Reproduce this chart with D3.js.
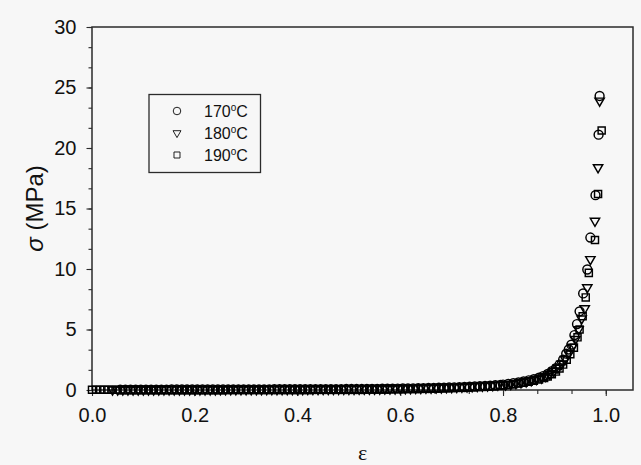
<!DOCTYPE html>
<html>
<head>
<meta charset="utf-8">
<script src="https://cdn.jsdelivr.net/npm/d3@7"></script>
<style>
  html, body { margin: 0; padding: 0; background: #f7f7f7; }
  svg { display: block; }
</style>
</head>
<body>
<div id="vis"></div>
<script>
'use strict';

// Data: strain (ε) and stress σ (MPa) for each temperature
const strain170 = [0.055, 0.065, 0.075, 0.085, 0.095, 0.105, 0.115, 0.125, 0.135, 0.145,
  0.155, 0.165, 0.175, 0.185, 0.195, 0.205, 0.215, 0.225, 0.235, 0.245, 0.255,
  0.265, 0.275, 0.285, 0.295, 0.305, 0.315, 0.325, 0.335, 0.345,
  0.355, 0.365, 0.375, 0.385, 0.395, 0.405, 0.415, 0.425,
  0.435, 0.445, 0.455, 0.465, 0.475, 0.485,
  0.495, 0.505, 0.515, 0.525,
  0.535, 0.545, 0.555,
  0.565, 0.575, 0.585, 0.595, 0.605, 0.615, 0.625, 0.635, 0.645, 0.655, 0.665, 0.675,
  0.685, 0.695, 0.705, 0.715, 0.725, 0.735, 0.745, 0.755, 0.765, 0.775, 0.785, 0.795,
  0.80, 0.81, 0.82, 0.83, 0.84, 0.85, 0.86, 0.87, 0.878, 0.887, 0.895, 0.903,
  0.91, 0.917, 0.923, 0.928, 0.933, 0.939, 0.944, 0.949, 0.956, 0.964, 0.970, 0.980, 0.986, 0.988];
const stress170 = [0.03, 0.03, 0.03, 0.03, 0.03, 0.03, 0.03, 0.03, 0.03, 0.03,
  0.04, 0.04, 0.04, 0.04, 0.04, 0.04, 0.04, 0.04, 0.04, 0.04, 0.04,
  0.05, 0.05, 0.05, 0.05, 0.05, 0.05, 0.05, 0.05, 0.05,
  0.06, 0.06, 0.06, 0.06, 0.06, 0.06, 0.06, 0.06,
  0.07, 0.07, 0.07, 0.07, 0.07, 0.07,
  0.08, 0.08, 0.08, 0.08,
  0.09, 0.09, 0.09,
  0.10, 0.105, 0.11, 0.12, 0.125, 0.13, 0.14, 0.145, 0.155, 0.165, 0.175, 0.185,
  0.195, 0.21, 0.22, 0.235, 0.25, 0.27, 0.29, 0.31, 0.33, 0.36, 0.39, 0.42,
  0.45, 0.50, 0.56, 0.63, 0.71, 0.80, 0.90, 1.02, 1.15, 1.33, 1.55, 1.80,
  2.10, 2.50, 3.00, 3.35, 3.75, 4.54, 5.45, 6.50, 7.98, 9.96, 12.6, 16.1, 21.1, 24.3];

const strain180 = [0.04, 0.05, 0.06, 0.07, 0.08, 0.09, 0.10, 0.11, 0.12, 0.13,
  0.14, 0.15, 0.16, 0.17, 0.18, 0.19, 0.20, 0.21, 0.22, 0.23, 0.24,
  0.25, 0.26, 0.27, 0.28, 0.29, 0.30, 0.31, 0.32, 0.33,
  0.34, 0.35, 0.36, 0.37, 0.38, 0.39, 0.40, 0.41,
  0.42, 0.43, 0.44, 0.45, 0.46, 0.47,
  0.48, 0.49, 0.50, 0.51,
  0.52, 0.53, 0.54, 0.55,
  0.56, 0.57, 0.58, 0.59, 0.60, 0.61, 0.62, 0.63, 0.64, 0.65, 0.66, 0.67,
  0.68, 0.69, 0.70, 0.71, 0.72, 0.73, 0.74, 0.75, 0.76, 0.77, 0.78, 0.79,
  0.805, 0.815, 0.825, 0.835, 0.845, 0.855, 0.865, 0.875, 0.883, 0.891, 0.899, 0.907,
  0.914, 0.921, 0.928, 0.935, 0.941, 0.947, 0.953, 0.959, 0.964, 0.970, 0.979, 0.985, 0.988];
const stress180 = [0.03, 0.03, 0.03, 0.03, 0.03, 0.03, 0.03, 0.03, 0.03, 0.03,
  0.04, 0.04, 0.04, 0.04, 0.04, 0.04, 0.04, 0.04, 0.04, 0.04, 0.04,
  0.05, 0.05, 0.05, 0.05, 0.05, 0.05, 0.05, 0.05, 0.05,
  0.06, 0.06, 0.06, 0.06, 0.06, 0.06, 0.06, 0.06,
  0.07, 0.07, 0.07, 0.07, 0.07, 0.07,
  0.08, 0.08, 0.08, 0.08,
  0.09, 0.09, 0.09, 0.09,
  0.10, 0.105, 0.11, 0.115, 0.12, 0.13, 0.135, 0.145, 0.155, 0.165, 0.175, 0.185,
  0.195, 0.21, 0.22, 0.235, 0.25, 0.27, 0.29, 0.31, 0.33, 0.36, 0.39, 0.42,
  0.44, 0.49, 0.55, 0.62, 0.70, 0.79, 0.89, 1.01, 1.15, 1.33, 1.55, 1.82,
  2.15, 2.55, 3.00, 3.55, 4.20, 5.00, 5.90, 6.74, 8.47, 10.8, 13.97, 18.4, 23.9];

const strain190 = [0, 0.008, 0.016, 0.024, 0.032, 0.04, 0.048,
  0.06, 0.07, 0.08, 0.09, 0.10, 0.11, 0.12, 0.13, 0.14, 0.15,
  0.16, 0.17, 0.18, 0.19, 0.20, 0.21, 0.22, 0.23, 0.24, 0.25, 0.26,
  0.27, 0.28, 0.29, 0.30, 0.31, 0.32, 0.33, 0.34, 0.35,
  0.36, 0.37, 0.38, 0.39, 0.40, 0.41, 0.42, 0.43,
  0.44, 0.45, 0.46, 0.47, 0.48, 0.49,
  0.50, 0.51, 0.52, 0.53,
  0.54, 0.55, 0.56, 0.57,
  0.58, 0.59, 0.60, 0.61, 0.62, 0.63, 0.64, 0.65, 0.66, 0.67, 0.68, 0.69,
  0.70, 0.71, 0.72, 0.73, 0.74, 0.75, 0.76, 0.77, 0.78, 0.79, 0.80,
  0.81, 0.82, 0.83, 0.84, 0.85, 0.86, 0.87, 0.88, 0.887, 0.895, 0.903, 0.91, 0.917,
  0.924, 0.931, 0.938, 0.945, 0.949, 0.955, 0.961, 0.967, 0.979, 0.985, 0.992];
const stress190 = [0.02, 0.02, 0.02, 0.02, 0.02, 0.02, 0.02,
  0.02, 0.02, 0.02, 0.02, 0.02, 0.02, 0.02, 0.02, 0.02, 0.02,
  0.03, 0.03, 0.03, 0.03, 0.03, 0.03, 0.03, 0.03, 0.03, 0.03, 0.03,
  0.04, 0.04, 0.04, 0.04, 0.04, 0.04, 0.04, 0.04, 0.04,
  0.05, 0.05, 0.05, 0.05, 0.05, 0.05, 0.05, 0.05,
  0.06, 0.06, 0.06, 0.06, 0.06, 0.06,
  0.07, 0.07, 0.07, 0.07,
  0.08, 0.08, 0.08, 0.08,
  0.09, 0.095, 0.10, 0.105, 0.11, 0.12, 0.125, 0.135, 0.145, 0.155, 0.165, 0.175,
  0.185, 0.20, 0.21, 0.225, 0.24, 0.26, 0.28, 0.30, 0.32, 0.35, 0.38,
  0.42, 0.47, 0.53, 0.60, 0.68, 0.77, 0.87, 0.99, 1.12, 1.30, 1.52, 1.78, 2.10,
  2.50, 2.95, 3.50, 4.35, 5.00, 6.10, 7.65, 9.68, 12.4, 16.2, 21.45];

const seriesNames = ['170', '180', '190'];
const xTicks = [0, 0.2, 0.4, 0.6, 0.8, 1.0];
const yTicks = [0, 5, 10, 15, 20, 25, 30];

// Constants for sizing
const width = 641;
const height = 465;
const margin = { top: 27, right: 8, bottom: 75, left: 92 };

const x = d3.scaleLinear()
  .domain([0, 1.053])
  .range([margin.left, width - margin.right]);

const y = d3.scaleLinear()
  .domain([0, 30])
  .range([height - margin.bottom, margin.top]);

// one symbol per temperature
const symbols = {
  '170': d3.symbol().type(d3.symbolCircle).size(62),
  '180': d3.symbol().type(d3.symbolTriangle).size(38),
  '190': d3.symbol().type(d3.symbolSquare).size(50)
};
const rotation = { '170': 0, '180': 180, '190': 0 };

const series = [
  { name: '170', pts: d3.zip(strain170, stress170) },
  { name: '180', pts: d3.zip(strain180, stress180) },
  { name: '190', pts: d3.zip(strain190, stress190) }
];

const svg = d3.select('#vis')
  .append('svg')
  .attr('width', width)
  .attr('height', height)
  .style('background', '#f7f7f7');

// minor ticks divide each labelled interval into thirds
const xMinor = d3.range(0, 16).map(i => i * 0.2 / 3).filter(v => v <= 1.05);
const yMinor = d3.range(0, 19).map(i => i * 5 / 3);

const ink = '#2b2b2b';

svg.append('g')
  .attr('transform', `translate(0,${y(0)})`)
  .call(d3.axisBottom(x).tickValues(xMinor).tickSize(4).tickFormat(''))
  .call(g => g.select('.domain').remove());

svg.append('g')
  .attr('transform', `translate(0,${y(0)})`)
  .call(d3.axisBottom(x).tickValues(xTicks).tickSize(6).tickPadding(12).tickFormat(d3.format('.1f')))
  .call(g => g.select('.domain').remove());

svg.append('g')
  .attr('transform', `translate(${x(0)},0)`)
  .call(d3.axisLeft(y).tickValues(yMinor).tickSize(3.5).tickFormat(''))
  .call(g => g.select('.domain').remove());

svg.append('g')
  .attr('transform', `translate(${x(0)},0)`)
  .call(d3.axisLeft(y).tickValues(yTicks).tickSize(5.5).tickPadding(10).tickFormat(d3.format('d')))
  .call(g => g.select('.domain').remove());

svg.selectAll('.tick line').attr('stroke', ink).attr('stroke-width', 1.1);
svg.selectAll('.tick text')
  .attr('fill', '#111')
  .style('font-family', '"Liberation Sans", Arial, sans-serif')
  .style('font-size', '20px');

// frame
svg.append('rect')
  .attr('x', x(0))
  .attr('y', y(30))
  .attr('width', x.range()[1] - x(0))
  .attr('height', y(0) - y(30))
  .attr('fill', 'none')
  .attr('stroke', ink)
  .attr('stroke-width', 1.5);

// data markers
series.forEach(s => {
  svg.append('g')
    .selectAll('path')
    .data(s.pts)
    .enter()
    .append('path')
    .attr('d', symbols[s.name]())
    .attr('transform', d => `translate(${x(d[0])},${y(d[1])}) rotate(${rotation[s.name]})`)
    .attr('fill', 'none')
    .attr('stroke', '#000')
    .attr('stroke-width', 1.45);
});

// axis titles
svg.append('text')
  .attr('x', (x.range()[0] + x.range()[1]) / 2)
  .attr('y', 460)
  .attr('text-anchor', 'middle')
  .style('font-family', '"Liberation Serif", "Times New Roman", serif')
  .style('font-size', '22px')
  .attr('fill', '#111')
  .text('ε');

const yTitle = svg.append('text')
  .attr('transform', `translate(43,${(y(0) + y(30)) / 2}) rotate(-90)`)
  .attr('text-anchor', 'middle')
  .style('font-family', '"Liberation Sans", Arial, sans-serif')
  .style('font-size', '24px')
  .attr('fill', '#111');
yTitle.append('tspan').style('font-style', 'italic').text('σ');
yTitle.append('tspan').text(' (MPa)');

// legend
const legend = svg.append('g');
legend.append('rect')
  .attr('x', 149)
  .attr('y', 94.5)
  .attr('width', 111.5)
  .attr('height', 78)
  .attr('fill', 'none')
  .attr('stroke', ink)
  .attr('stroke-width', 1.3);

seriesNames.forEach((name, i) => {
  const cy = 111 + i * 22;
  legend.append('path')
    .attr('d', symbols[name]())
    .attr('transform', `translate(177,${cy}) rotate(${rotation[name]}) scale(0.85)`)
    .attr('fill', 'none')
    .attr('stroke', '#111')
    .attr('stroke-width', 1.1);
  const t = legend.append('text')
    .attr('x', 204)
    .attr('y', cy + 5.5)
    .style('font-family', '"Liberation Sans", Arial, sans-serif')
    .style('font-size', '16px')
    .attr('fill', '#111');
  t.append('tspan').text(name);
  t.append('tspan').attr('dy', -6).style('font-size', '10px').text('o');
  t.append('tspan').attr('dy', 6).text('C');
});
</script>
</body>
</html>
